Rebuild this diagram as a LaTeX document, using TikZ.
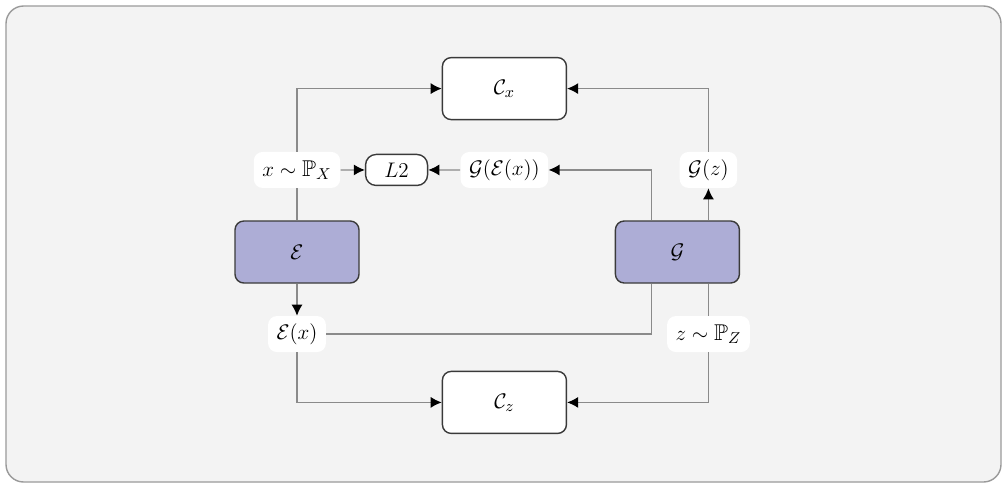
\documentclass[tikz,border=0pt]{standalone}
\usepackage{amsmath,amssymb}
\usepackage{tikz}
\usetikzlibrary{arrows.meta,calc,positioning}
\definecolor{ink}{HTML}{3A3A3A}
\definecolor{net}{HTML}{ADADD6}
\definecolor{wire}{HTML}{8A8A8A}
\definecolor{paper}{HTML}{F3F3F3}
\definecolor{frame}{HTML}{9A9A9A}

\begin{document}
\begin{tikzpicture}[font=\fontsize{13}{15}\selectfont,
  box/.style={draw=ink,fill=white,line width=0.8pt,rounded corners=5pt,minimum width=2.48cm,minimum height=1.24cm},
  net/.style={box,fill=net},
  tag/.style={fill=white,rounded corners=5pt,minimum height=0.72cm,inner xsep=0.17cm},
  loss/.style={draw=ink,fill=white,line width=0.8pt,rounded corners=6pt,minimum width=1.24cm,minimum height=0.62cm},
  wire/.style={draw=wire,line width=0.7pt},
  arr/.style={wire,-{Latex[length=2.2mm,width=2.2mm,color=black]}}]
\useasboundingbox (0,0) rectangle (20.16,-9.78);
\draw[frame,fill=paper,line width=0.8pt,rounded corners=10pt] (0.12,-0.12) rectangle (20.02,-9.64);
\node[net] (E) at (5.94,-5.04) {$\mathcal{E}$};
\node[net,right=5.1cm of E] (G) {$\mathcal{G}$};
\node[box,above right=2cm and 1.64cm of E] (Cx) {$\mathcal{C}_x$};
\node[box,below right=1.74cm and 1.64cm of E] (Cz) {$\mathcal{C}_z$};
\node[tag,above=0.64cm of E] (xp) {$x\sim\mathbb{P}_X$};
\node[tag,below=0.64cm of E] (Ex) {$\mathcal{E}(x)$};
\node[tag,above=0.64cm of G,xshift=0.62cm] (Gz) {$\mathcal{G}(z)$};
\node[tag,below=0.64cm of G,xshift=0.62cm] (zp) {$z\sim\mathbb{P}_Z$};
\node[tag] (GE) at (Cx |- xp) {$\mathcal{G}(\mathcal{E}(x))$};
\node[loss] (L2) at ($(xp)!0.48!(GE)$) {$L2$};
% encoder side
\draw[wire] (xp) -- (E);
\draw[arr] (xp) |- (Cx);
\draw[arr] (xp) -- (L2);
\draw[arr] (E) -- (Ex);
\draw[wire] (Ex) -| ([xshift=-0.52cm]G.south);
\draw[arr] (Ex) |- (Cz);
% generator side
\draw[arr] (GE) -- (L2);
\draw[arr] ([xshift=-0.52cm]G.north) |- (GE);
\draw[arr] (G.north -| Gz) -- (Gz);
\draw[arr] (Gz) |- (Cx);
\draw[wire] (zp) -- (G.south -| zp);
\draw[arr] (zp) |- (Cz);
\end{tikzpicture}
\end{document}
